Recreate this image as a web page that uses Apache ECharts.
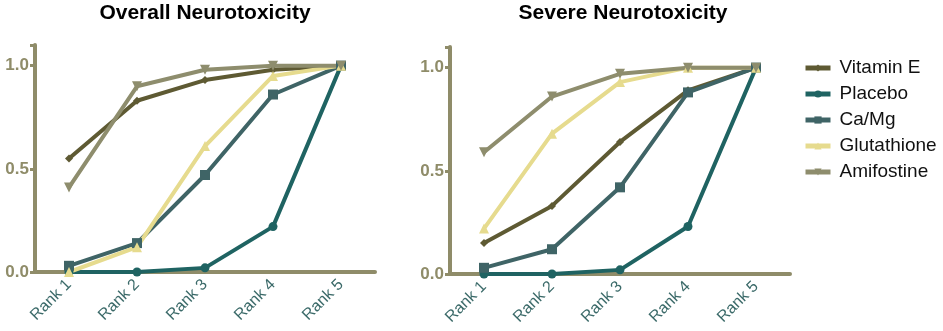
<!DOCTYPE html>
<html>
<head>
<meta charset="utf-8">
<script src="https://cdn.jsdelivr.net/npm/echarts@6/dist/echarts.min.js"></script>
<style>
  html, body { margin: 0; padding: 0; background: #fff; }
  #chart { width: 943px; height: 331px; }
</style>
</head>
<body>
<div id="chart"></div>
<script>
const ranks = ["Rank 1", "Rank 2", "Rank 3", "Rank 4", "Rank 5"];
const treatments = ["Vitamin E", "Placebo", "Ca/Mg", "Glutathione", "Amifostine"];
const yTicks = [0, 0.5, 1.0];

// Overall neurotoxicity (cumulative rank probability)
const overallVitaminE = [0.55, 0.83, 0.93, 0.98, 1.0];
const overallPlacebo = [0.0, 0.0, 0.02, 0.22, 1.0];
const overallCaMg = [0.03, 0.14, 0.47, 0.86, 1.0];
const overallGlutathione = [0.0, 0.12, 0.61, 0.95, 1.0];
const overallAmifostine = [0.41, 0.9, 0.98, 1.0, 1.0];

// Severe neurotoxicity
const severeVitaminE = [0.15, 0.33, 0.64, 0.89, 1.0];
const severePlacebo = [0.0, 0.0, 0.02, 0.23, 1.0];
const severeCaMg = [0.03, 0.12, 0.42, 0.88, 1.0];
const severeGlutathione = [0.22, 0.68, 0.93, 1.0, 1.0];
const severeAmifostine = [0.59, 0.86, 0.97, 1.0, 1.0];

const colors = {
  "Vitamin E": "#5e5a33",
  "Placebo": "#1f6362",
  "Ca/Mg": "#3f6466",
  "Glutathione": "#e6db8e",
  "Amifostine": "#8e8d6d",
};
const symbols = {
  "Vitamin E": { symbol: "diamond", size: 8, rotate: 0 },
  "Placebo": { symbol: "circle", size: 9, rotate: 0 },
  "Ca/Mg": { symbol: "rect", size: 10, rotate: 0 },
  "Glutathione": { symbol: "triangle", size: 10, rotate: 0 },
  "Amifostine": { symbol: "triangle", size: 10, rotate: 180 },
};

const axisColor = "#8f8c69";
const font = "'Liberation Sans', Arial, sans-serif";

const makeSeries = (name, data, idx) => ({
  name,
  type: "line",
  xAxisIndex: idx,
  yAxisIndex: idx,
  data,
  symbol: symbols[name].symbol,
  symbolSize: symbols[name].size,
  symbolRotate: symbols[name].rotate,
  showAllSymbol: true,
  lineStyle: { width: 4, color: colors[name] },
  itemStyle: { color: colors[name] },
  emphasis: { disabled: true },
  animation: false,
});

const xAxisFor = (idx) => ({
  type: "category",
  gridIndex: idx,
  data: ranks,
  boundaryGap: true,
  axisLine: { lineStyle: { color: axisColor, width: 4 } },
  axisTick: { alignWithLabel: true, length: 6, lineStyle: { color: axisColor, width: 3 } },
  axisLabel: {
    rotate: 45,
    color: "#3b6a69",
    fontSize: 16,
    fontFamily: font,
    margin: 10,
  },
});

const yAxisFor = (idx) => ({
  type: "value",
  gridIndex: idx,
  min: 0,
  max: 1.1,
  interval: 0.5,
  splitLine: { show: false },
  axisLine: { show: true, lineStyle: { color: axisColor, width: 4 } },
  axisTick: { show: true, length: 5, lineStyle: { color: axisColor, width: 3 } },
  axisLabel: {
    color: axisColor,
    fontSize: 17,
    fontWeight: "bold",
    fontFamily: font,
    margin: 6,
    formatter: (v) => (yTicks.some((t) => Math.abs(t - v) < 1e-6) ? v.toFixed(1) : ""),
  },
});

const chart = echarts.init(document.getElementById("chart"));

const titleStyle = { fontSize: 21, fontWeight: "bold", color: "#000", fontFamily: font };

const option = {
  animation: false,
  title: [
    { text: "Overall Neurotoxicity", left: 205, top: 3, padding: 0, textAlign: "center", textStyle: titleStyle },
    { text: "Severe Neurotoxicity", left: 623, top: 3, padding: 0, textAlign: "center", textStyle: titleStyle },
  ],
  legend: {
    data: treatments,
    orient: "vertical",
    left: 798,
    top: 53,
    itemWidth: 25,
    itemHeight: 9,
    itemGap: 6,
    lineStyle: { width: 5 },
    textStyle: {
      fontSize: 19,
      lineHeight: 20,
      color: "#111",
      fontFamily: font,
      padding: [0, 0, 0, 4],
    },
    selectedMode: false,
  },
  grid: [
    { left: 35, top: 45, width: 340, height: 227 },
    { left: 450, top: 47, width: 340, height: 227 },
  ],
  xAxis: [xAxisFor(0), xAxisFor(1)],
  yAxis: [yAxisFor(0), yAxisFor(1)],
  series: [
    makeSeries("Vitamin E", overallVitaminE, 0),
    makeSeries("Placebo", overallPlacebo, 0),
    makeSeries("Ca/Mg", overallCaMg, 0),
    makeSeries("Glutathione", overallGlutathione, 0),
    makeSeries("Amifostine", overallAmifostine, 0),
    makeSeries("Vitamin E", severeVitaminE, 1),
    makeSeries("Placebo", severePlacebo, 1),
    makeSeries("Ca/Mg", severeCaMg, 1),
    makeSeries("Glutathione", severeGlutathione, 1),
    makeSeries("Amifostine", severeAmifostine, 1),
  ],
};

chart.setOption(option);
</script>
</body>
</html>
